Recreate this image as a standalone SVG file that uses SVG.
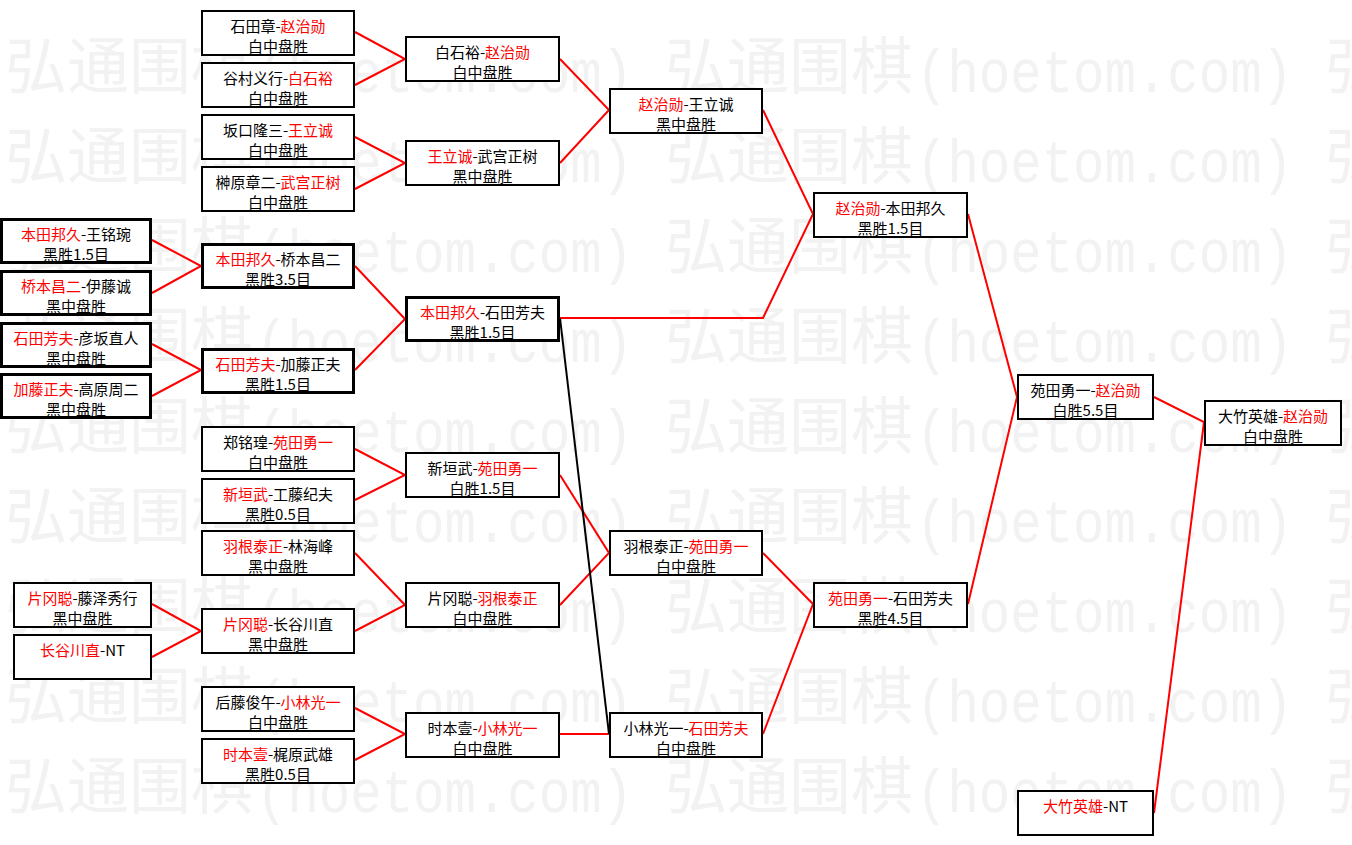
<svg xmlns="http://www.w3.org/2000/svg" width="1352" height="845" viewBox="0 0 1352 845">
<style>
.wm{fill:#f2f2f2;font-size:62px}
.wmc{font-family:"Noto Sans CJK SC","Noto Sans CJK JP",sans-serif}
.wml{font-family:"Liberation Mono","DejaVu Sans Mono",monospace}
.box{fill:#fff;stroke:#000;stroke-width:2}
.bold{stroke-width:3}
.t{font-family:"Noto Sans CJK SC","Noto Sans CJK JP",sans-serif;font-size:15px;fill:#000;text-anchor:middle}
.r{fill:#f00}
.ln{fill:none;stroke:#f00;stroke-width:2}
.lk{fill:none;stroke:#000;stroke-width:2}
</style>
<rect x="0" y="0" width="1352" height="845" fill="#fff"/>
<g id="watermark">
<text class="wm wmc" x="5" y="89">弘通围棋</text><text class="wm wml" x="256" y="92" textLength="377" lengthAdjust="spacingAndGlyphs">(hoetom.com)</text><text class="wm wmc" x="665" y="89">弘通围棋</text><text class="wm wml" x="916" y="92" textLength="377" lengthAdjust="spacingAndGlyphs">(hoetom.com)</text><text class="wm wmc" x="1325" y="89">弘</text>
<text class="wm wmc" x="5" y="179">弘通围棋</text><text class="wm wml" x="256" y="182" textLength="377" lengthAdjust="spacingAndGlyphs">(hoetom.com)</text><text class="wm wmc" x="665" y="179">弘通围棋</text><text class="wm wml" x="916" y="182" textLength="377" lengthAdjust="spacingAndGlyphs">(hoetom.com)</text><text class="wm wmc" x="1325" y="179">弘</text>
<text class="wm wmc" x="5" y="269">弘通围棋</text><text class="wm wml" x="256" y="272" textLength="377" lengthAdjust="spacingAndGlyphs">(hoetom.com)</text><text class="wm wmc" x="665" y="269">弘通围棋</text><text class="wm wml" x="916" y="272" textLength="377" lengthAdjust="spacingAndGlyphs">(hoetom.com)</text><text class="wm wmc" x="1325" y="269">弘</text>
<text class="wm wmc" x="5" y="359">弘通围棋</text><text class="wm wml" x="256" y="362" textLength="377" lengthAdjust="spacingAndGlyphs">(hoetom.com)</text><text class="wm wmc" x="665" y="359">弘通围棋</text><text class="wm wml" x="916" y="362" textLength="377" lengthAdjust="spacingAndGlyphs">(hoetom.com)</text><text class="wm wmc" x="1325" y="359">弘</text>
<text class="wm wmc" x="5" y="449">弘通围棋</text><text class="wm wml" x="256" y="452" textLength="377" lengthAdjust="spacingAndGlyphs">(hoetom.com)</text><text class="wm wmc" x="665" y="449">弘通围棋</text><text class="wm wml" x="916" y="452" textLength="377" lengthAdjust="spacingAndGlyphs">(hoetom.com)</text><text class="wm wmc" x="1325" y="449">弘</text>
<text class="wm wmc" x="5" y="539">弘通围棋</text><text class="wm wml" x="256" y="542" textLength="377" lengthAdjust="spacingAndGlyphs">(hoetom.com)</text><text class="wm wmc" x="665" y="539">弘通围棋</text><text class="wm wml" x="916" y="542" textLength="377" lengthAdjust="spacingAndGlyphs">(hoetom.com)</text><text class="wm wmc" x="1325" y="539">弘</text>
<text class="wm wmc" x="5" y="629">弘通围棋</text><text class="wm wml" x="256" y="632" textLength="377" lengthAdjust="spacingAndGlyphs">(hoetom.com)</text><text class="wm wmc" x="665" y="629">弘通围棋</text><text class="wm wml" x="916" y="632" textLength="377" lengthAdjust="spacingAndGlyphs">(hoetom.com)</text><text class="wm wmc" x="1325" y="629">弘</text>
<text class="wm wmc" x="5" y="719">弘通围棋</text><text class="wm wml" x="256" y="722" textLength="377" lengthAdjust="spacingAndGlyphs">(hoetom.com)</text><text class="wm wmc" x="665" y="719">弘通围棋</text><text class="wm wml" x="916" y="722" textLength="377" lengthAdjust="spacingAndGlyphs">(hoetom.com)</text><text class="wm wmc" x="1325" y="719">弘</text>
<text class="wm wmc" x="5" y="809">弘通围棋</text><text class="wm wml" x="256" y="812" textLength="377" lengthAdjust="spacingAndGlyphs">(hoetom.com)</text><text class="wm wmc" x="665" y="809">弘通围棋</text><text class="wm wml" x="916" y="812" textLength="377" lengthAdjust="spacingAndGlyphs">(hoetom.com)</text><text class="wm wmc" x="1325" y="809">弘</text>
</g>
<g id="connectors">
<polyline class="ln" points="152,240 201,266 152,293"/>
<polyline class="ln" points="152,344 201,370 152,396"/>
<polyline class="ln" points="152,604 201,631 152,657"/>
<polyline class="ln" points="355,32 405,59 355,85"/>
<polyline class="ln" points="355,137 405,163 355,189"/>
<polyline class="ln" points="355,266 405,319 355,370"/>
<polyline class="ln" points="355,449 405,475 355,500"/>
<polyline class="ln" points="355,553 405,605 355,631"/>
<polyline class="ln" points="355,708 405,734 355,760"/>
<polyline class="ln" points="560,59 609,110 560,163"/>
<polyline class="ln" points="560,318 763,318 813,214 763,110"/>
<polyline class="ln" points="560,475 609,553 560,605"/>
<polyline class="ln" points="560,734 609,734"/>
<polyline class="ln" points="763,553 813,604 763,734"/>
<polyline class="ln" points="968,214 1017,397 968,604"/>
<polyline class="ln" points="1154,397 1204,422 1154,813"/>
<line class="lk" x1="560" y1="318" x2="609" y2="734"/>
</g>
<g id="n-a1" transform="translate(0,218)"><rect class="box bold" x="1.5" y="1.5" width="149" height="43"/><text class="t" x="76" y="21.5"><tspan class="r">本田邦久</tspan>-王铭琬</text><text class="t" x="76" y="41.5">黑胜1.5目</text></g>
<g id="n-a2" transform="translate(0,270)"><rect class="box bold" x="1.5" y="1.5" width="149" height="43"/><text class="t" x="76" y="21.5"><tspan class="r">桥本昌二</tspan>-伊藤诚</text><text class="t" x="76" y="41.5">黑中盘胜</text></g>
<g id="n-a3" transform="translate(0,322)"><rect class="box bold" x="1.5" y="1.5" width="149" height="43"/><text class="t" x="76" y="21.5"><tspan class="r">石田芳夫</tspan>-彦坂直人</text><text class="t" x="76" y="41.5">黑中盘胜</text></g>
<g id="n-a4" transform="translate(0,373)"><rect class="box bold" x="1.5" y="1.5" width="149" height="43"/><text class="t" x="76" y="21.5"><tspan class="r">加藤正夫</tspan>-高原周二</text><text class="t" x="76" y="41.5">黑中盘胜</text></g>
<g id="n-a5" transform="translate(13,582)"><rect class="box" x="1" y="1" width="137" height="44"/><text class="t" x="69.5" y="21.5"><tspan class="r">片冈聪</tspan>-藤泽秀行</text><text class="t" x="69.5" y="41.5">黑中盘胜</text></g>
<g id="n-a6" transform="translate(13,634)"><rect class="box" x="1" y="1" width="137" height="44"/><text class="t" x="69.5" y="21.5"><tspan class="r">长谷川直</tspan>-NT</text></g>
<g id="n-b1" transform="translate(201,10)"><rect class="box" x="1" y="1" width="152" height="44"/><text class="t" x="77" y="21.5">石田章-<tspan class="r">赵治勋</tspan></text><text class="t" x="77" y="41.5">白中盘胜</text></g>
<g id="n-b2" transform="translate(201,62)"><rect class="box" x="1" y="1" width="152" height="44"/><text class="t" x="77" y="21.5">谷村义行-<tspan class="r">白石裕</tspan></text><text class="t" x="77" y="41.5">白中盘胜</text></g>
<g id="n-b3" transform="translate(201,114)"><rect class="box" x="1" y="1" width="152" height="44"/><text class="t" x="77" y="21.5">坂口隆三-<tspan class="r">王立诚</tspan></text><text class="t" x="77" y="41.5">白中盘胜</text></g>
<g id="n-b4" transform="translate(201,166)"><rect class="box" x="1" y="1" width="152" height="44"/><text class="t" x="77" y="21.5">榊原章二-<tspan class="r">武宫正树</tspan></text><text class="t" x="77" y="41.5">白中盘胜</text></g>
<g id="n-b5" transform="translate(201,243)"><rect class="box bold" x="1.5" y="1.5" width="151" height="43"/><text class="t" x="77" y="21.5"><tspan class="r">本田邦久</tspan>-桥本昌二</text><text class="t" x="77" y="41.5">黑胜3.5目</text></g>
<g id="n-b6" transform="translate(201,348)"><rect class="box bold" x="1.5" y="1.5" width="151" height="43"/><text class="t" x="77" y="21.5"><tspan class="r">石田芳夫</tspan>-加藤正夫</text><text class="t" x="77" y="41.5">黑胜1.5目</text></g>
<g id="n-b7" transform="translate(201,426)"><rect class="box" x="1" y="1" width="152" height="44"/><text class="t" x="77" y="21.5">郑铭瑝-<tspan class="r">苑田勇一</tspan></text><text class="t" x="77" y="41.5">白中盘胜</text></g>
<g id="n-b8" transform="translate(201,478)"><rect class="box" x="1" y="1" width="152" height="44"/><text class="t" x="77" y="21.5"><tspan class="r">新垣武</tspan>-工藤纪夫</text><text class="t" x="77" y="41.5">黑胜0.5目</text></g>
<g id="n-b9" transform="translate(201,530)"><rect class="box" x="1" y="1" width="152" height="44"/><text class="t" x="77" y="21.5"><tspan class="r">羽根泰正</tspan>-林海峰</text><text class="t" x="77" y="41.5">黑中盘胜</text></g>
<g id="n-b10" transform="translate(201,608)"><rect class="box" x="1" y="1" width="152" height="44"/><text class="t" x="77" y="21.5"><tspan class="r">片冈聪</tspan>-长谷川直</text><text class="t" x="77" y="41.5">黑中盘胜</text></g>
<g id="n-b11" transform="translate(201,686)"><rect class="box" x="1" y="1" width="152" height="44"/><text class="t" x="77" y="21.5">后藤俊午-<tspan class="r">小林光一</tspan></text><text class="t" x="77" y="41.5">白中盘胜</text></g>
<g id="n-b12" transform="translate(201,738)"><rect class="box" x="1" y="1" width="152" height="44"/><text class="t" x="77" y="21.5"><tspan class="r">时本壹</tspan>-梶原武雄</text><text class="t" x="77" y="41.5">黑胜0.5目</text></g>
<g id="n-c1" transform="translate(405,36)"><rect class="box" x="1" y="1" width="153" height="44"/><text class="t" x="77.5" y="21.5">白石裕-<tspan class="r">赵治勋</tspan></text><text class="t" x="77.5" y="41.5">白中盘胜</text></g>
<g id="n-c2" transform="translate(405,140)"><rect class="box" x="1" y="1" width="153" height="44"/><text class="t" x="77.5" y="21.5"><tspan class="r">王立诚</tspan>-武宫正树</text><text class="t" x="77.5" y="41.5">黑中盘胜</text></g>
<g id="n-c3" transform="translate(405,296)"><rect class="box bold" x="1.5" y="1.5" width="152" height="43"/><text class="t" x="77.5" y="21.5"><tspan class="r">本田邦久</tspan>-石田芳夫</text><text class="t" x="77.5" y="41.5">黑胜1.5目</text></g>
<g id="n-c4" transform="translate(405,452)"><rect class="box" x="1" y="1" width="153" height="44"/><text class="t" x="77.5" y="21.5">新垣武-<tspan class="r">苑田勇一</tspan></text><text class="t" x="77.5" y="41.5">白胜1.5目</text></g>
<g id="n-c5" transform="translate(405,582)"><rect class="box" x="1" y="1" width="153" height="44"/><text class="t" x="77.5" y="21.5">片冈聪-<tspan class="r">羽根泰正</tspan></text><text class="t" x="77.5" y="41.5">白中盘胜</text></g>
<g id="n-c6" transform="translate(405,712)"><rect class="box" x="1" y="1" width="153" height="44"/><text class="t" x="77.5" y="21.5">时本壹-<tspan class="r">小林光一</tspan></text><text class="t" x="77.5" y="41.5">白中盘胜</text></g>
<g id="n-d1" transform="translate(609,88)"><rect class="box" x="1" y="1" width="152" height="44"/><text class="t" x="77" y="21.5"><tspan class="r">赵治勋</tspan>-王立诚</text><text class="t" x="77" y="41.5">黑中盘胜</text></g>
<g id="n-d2" transform="translate(609,530)"><rect class="box" x="1" y="1" width="152" height="44"/><text class="t" x="77" y="21.5">羽根泰正-<tspan class="r">苑田勇一</tspan></text><text class="t" x="77" y="41.5">白中盘胜</text></g>
<g id="n-d3" transform="translate(609,712)"><rect class="box" x="1" y="1" width="152" height="44"/><text class="t" x="77" y="21.5">小林光一-<tspan class="r">石田芳夫</tspan></text><text class="t" x="77" y="41.5">白中盘胜</text></g>
<g id="n-e1" transform="translate(813,192)"><rect class="box" x="1" y="1" width="153" height="44"/><text class="t" x="77.5" y="21.5"><tspan class="r">赵治勋</tspan>-本田邦久</text><text class="t" x="77.5" y="41.5">黑胜1.5目</text></g>
<g id="n-e2" transform="translate(813,582)"><rect class="box" x="1" y="1" width="153" height="44"/><text class="t" x="77.5" y="21.5"><tspan class="r">苑田勇一</tspan>-石田芳夫</text><text class="t" x="77.5" y="41.5">黑胜4.5目</text></g>
<g id="n-f1" transform="translate(1017,374)"><rect class="box" x="1" y="1" width="135" height="44"/><text class="t" x="68.5" y="21.5">苑田勇一-<tspan class="r">赵治勋</tspan></text><text class="t" x="68.5" y="41.5">白胜5.5目</text></g>
<g id="n-f2" transform="translate(1017,790)"><rect class="box" x="1" y="1" width="135" height="44"/><text class="t" x="68.5" y="21.5"><tspan class="r">大竹英雄</tspan>-NT</text></g>
<g id="n-g1" transform="translate(1204,400)"><rect class="box" x="1" y="1" width="136" height="44"/><text class="t" x="69" y="21.5">大竹英雄-<tspan class="r">赵治勋</tspan></text><text class="t" x="69" y="41.5">白中盘胜</text></g>
</svg>
